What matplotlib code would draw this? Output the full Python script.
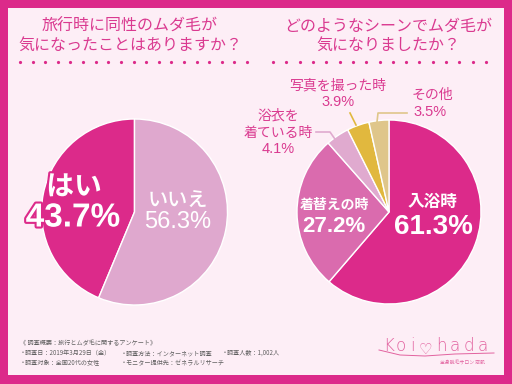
import numpy as np
import matplotlib
matplotlib.use('Agg')
import matplotlib.pyplot as plt
import matplotlib.patheffects as pe
import matplotlib.patches as patches

plt.rcParams['font.family'] = ['Noto Sans CJK JP', 'DejaVu Sans']

# data
q1_labels = ['はい', 'いいえ']
q1_values = [43.7, 56.3]
q1_colors = ['#DC2A8A', '#DFA8CE']

q2_labels = ['入浴時', '着替えの時', '浴衣を\n着ている時', '写真を撮った時', 'その他']
q2_values = [61.3, 27.2, 4.1, 3.9, 3.5]
q2_colors = ['#DC2A8A', '#DA6BAE', '#E0AACF', '#E1B83E', '#DFC68A']

title_left = '旅行時に同性のムダ毛が\n気になったことはありますか？'
title_right = 'どのようなシーンでムダ毛が\n気になりましたか？'
footer = ['《 調査概要：旅行とムダ毛に関するアンケート》',
          '・調査日：2019年3月29日（金）', '・調査方法：インターネット調査', '・調査人数：1,002人',
          '・調査対象：全国20代の女性', '・モニター提供先：ゼネラルリサーチ']

MAG = '#DC2A8A'
TXT = '#DA3A90'
BG = '#FDEEF6'
W, H = 512, 384


def pixel_axes(fig):
    ax = fig.add_axes([0, 0, 1, 1])
    ax.set_xlim(0, W)
    ax.set_ylim(H, 0)
    ax.axis('off')
    ax.patch.set_alpha(0)
    return ax


def main():
    fig = plt.figure(figsize=(5.12, 3.84), dpi=100)
    fig.patch.set_facecolor(MAG)

    bg = pixel_axes(fig)
    bg.add_patch(patches.Rectangle((8, 8), 496, 367, fc=BG, ec='none', zorder=0))

    # left pie
    r = 93
    axl = fig.add_axes([(134.5 - r) / W, (H - 212 - r) / H, 2 * r / W, 2 * r / H])
    axl.pie(q1_values, colors=q1_colors, startangle=90, counterclock=True,
            wedgeprops=dict(edgecolor='white', linewidth=1))
    axl.set_xlim(-1, 1)
    axl.set_ylim(-1, 1)

    # right pie
    r2 = 92
    axr = fig.add_axes([(389 - r2) / W, (H - 212 - r2) / H, 2 * r2 / W, 2 * r2 / H])
    axr.pie(q2_values, colors=q2_colors, startangle=90, counterclock=False,
            wedgeprops=dict(edgecolor='white', linewidth=1))
    axr.set_xlim(-1, 1)
    axr.set_ylim(-1, 1)

    ax = pixel_axes(fig)

    # titles
    ax.text(130, 36, title_left, ha='center', va='center', fontsize=11.5,
            color=TXT, linespacing=1.2)
    ax.text(388, 36, title_right, ha='center', va='center', fontsize=11.5,
            color=TXT, linespacing=1.2)
    ax.plot(np.linspace(20, 247, 19), [62] * 19, 'o', ms=2.3, color=MAG, mec='none')
    ax.plot(np.linspace(273, 486, 17), [62] * 17, 'o', ms=2.3, color=MAG, mec='none')

    stroke = [pe.withStroke(linewidth=3, foreground=MAG)]
    ax.text(74, 187, q1_labels[0], ha='center', va='center', fontsize=20,
            fontweight='bold', color='white', path_effects=stroke)
    ax.text(73, 218, f'{q1_values[0]}%', ha='center', va='center', fontsize=24,
            fontweight='bold', color='white', family='Liberation Sans', path_effects=stroke)
    ax.text(178, 201, q1_labels[1], ha='center', va='center', fontsize=14.5,
            fontweight='medium', color='white')
    ax.text(178, 222, f'{q1_values[1]}%', ha='center', va='center', fontsize=17,
            color='white', family='Liberation Sans')

    ax.text(433, 202, q2_labels[0], ha='center', va='center', fontsize=12,
            fontweight='bold', color='white')
    ax.text(433, 227, f'{q2_values[0]}%', ha='center', va='center', fontsize=20,
            fontweight='bold', color='white', family='Liberation Sans')
    ax.text(334, 205, q2_labels[1], ha='center', va='center', fontsize=10,
            fontweight='bold', color='white')
    ax.text(334, 226, f'{q2_values[1]}%', ha='center', va='center', fontsize=16,
            fontweight='bold', color='white', family='Liberation Sans')

    # outside labels
    ax.text(278, 115, '浴衣を', ha='center', va='center', fontsize=10, color=TXT)
    ax.text(278, 133, '着ている時', ha='center', va='center', fontsize=10, color=TXT)
    ax.text(278, 149, f'{q2_values[2]}%', ha='center', va='center', fontsize=10.5,
            color=TXT, family='Liberation Sans')
    ax.plot([316, 330, 337], [132, 132, 142], color=q2_colors[2], lw=1.2)

    ax.text(338, 85, '写真を撮った時', ha='center', va='center', fontsize=10, color=TXT)
    ax.text(338, 102, f'{q2_values[3]}%', ha='center', va='center', fontsize=10.5,
            color=TXT, family='Liberation Sans')
    ax.plot([350, 356], [113, 125], color=q2_colors[3], lw=1.2)

    ax.text(432, 95, 'その他', ha='center', va='center', fontsize=10, color=TXT)
    ax.text(430, 112, f'{q2_values[4]}%', ha='center', va='center', fontsize=10.5,
            color=TXT, family='Liberation Sans')
    ax.plot([377, 378, 407], [122, 113, 113], color=q2_colors[4], lw=1.2)

    # footer
    fc = '#5E5E5E'
    fs = 4.4
    ax.text(20, 343, footer[0], ha='left', va='center', fontsize=fs, color=fc)
    ax.text(20, 353, footer[1], ha='left', va='center', fontsize=fs, color=fc)
    ax.text(121, 353, footer[2], ha='left', va='center', fontsize=fs, color=fc)
    ax.text(222, 353, footer[3], ha='left', va='center', fontsize=fs, color=fc)
    ax.text(20, 363, footer[4], ha='left', va='center', fontsize=fs, color=fc)
    ax.text(121, 363, footer[5], ha='left', va='center', fontsize=fs, color=fc)

    # logo
    lc = '#E2629F'
    for ch, x in zip('Koi', [389, 401, 412]):
        ax.text(x, 346, ch, ha='center', va='center', fontsize=12, color=lc,
                family='DejaVu Sans', fontweight='light')
    ax.text(425, 349, '♡', ha='center', va='center', fontsize=11, color=lc,
            family='DejaVu Sans')
    for ch, x in zip('hada', [441, 455, 469, 483]):
        ax.text(x, 346, ch, ha='center', va='center', fontsize=12, color=lc,
                family='DejaVu Sans', fontweight='light')
    ax.plot([379, 400, 425, 455, 494], [350, 355, 356, 354, 353], color=lc, lw=0.7)
    ax.text(462, 363, '全身脱毛サロン 恋肌', ha='center', va='center', fontsize=3.5, color=lc)

    fig.savefig('out.png', dpi=100, facecolor=fig.get_facecolor())


if __name__ == '__main__':
    main()
